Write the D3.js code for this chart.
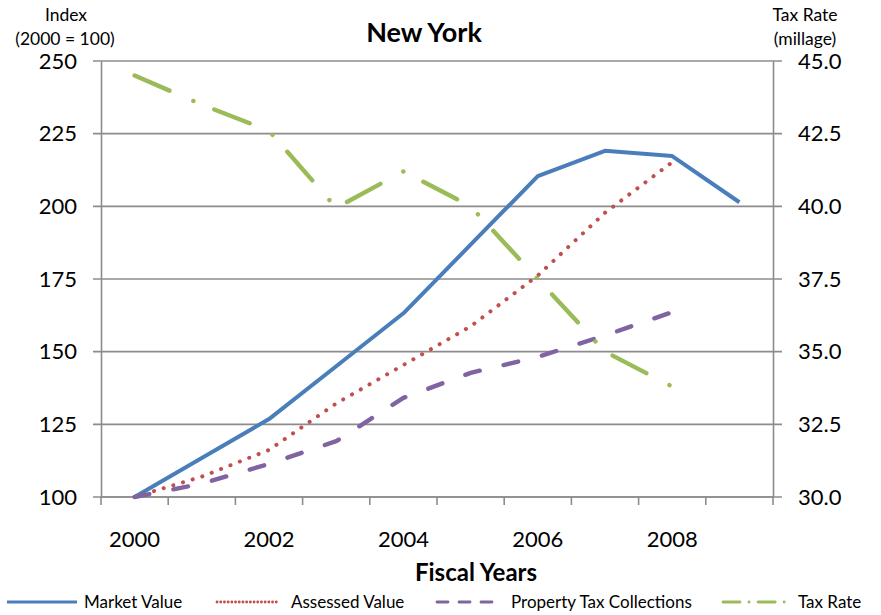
<!DOCTYPE html>
<html>
<head>
<meta charset="utf-8">
<script src="https://cdn.jsdelivr.net/npm/d3@7"></script>
<style>
  html, body { margin: 0; padding: 0; background: #fff; }
  svg { display: block; font-family: Lato, "Open Sans", sans-serif; }
</style>
</head>
<body>
<svg id="chart" width="881" height="615"></svg>
<script>
// Fiscal years and series (index 2000 = 100, tax rate in millage)
const years = [2000, 2001, 2002, 2003, 2004, 2005, 2006, 2007, 2008, 2009];
const yearLabels = [2000, 2002, 2004, 2006, 2008];
const marketValue = [100, 113.4, 126.8, 145, 163.2, 186.8, 210.4, 219.1, 217.3, 201.4];
const assessedValue = [100, 107, 116.2, 132.2, 145.4, 158.7, 176.2, 197.8, 215.2, null];
const taxCollections = [100, 104.6, 111.4, 119.2, 134.1, 142.7, 148.2, 155.6, 163.6, null];
const taxRate = [44.5, 43.5, 42.6, 39.95, 41.2, 40.0, 37.5, 35.0, 33.8, null];
const indexTicks = [100, 125, 150, 175, 200, 225, 250];
const rateTicks = [30, 32.5, 35, 37.5, 40, 42.5, 45];

const svg = d3.select("#chart");
const plotLeft = 101, plotRight = 773, plotTop = 61, plotBottom = 497;
const gridColor = "#8c8c8c";

const x = d3.scaleBand().domain(years).range([plotLeft, plotRight]).padding(0);
const cx = d => x(d) + x.bandwidth() / 2;
const y = d3.scaleLinear().domain([100, 250]).range([plotBottom, plotTop]);
const y2 = d3.scaleLinear().domain([30, 45]).range([plotBottom, plotTop]);

// Horizontal gridlines (with outer tick stubs on both sides)
svg.append("g").selectAll("line").data(indexTicks).join("line")
  .attr("x1", plotLeft - 8).attr("x2", plotRight + 9)
  .attr("y1", d => y(d)).attr("y2", d => y(d))
  .attr("stroke", gridColor).attr("stroke-width", 1.6);

// Left axis
const yAxis = d3.axisLeft(y).tickValues(indexTicks).tickSize(0).tickPadding(24);
const gy = svg.append("g").attr("transform", `translate(${plotLeft},0)`).call(yAxis);
gy.select(".domain").attr("stroke", gridColor).attr("stroke-width", 1.6);
gy.selectAll("text").attr("font-size", 22).attr("fill", "#000")
  .attr("font-family", "Lato, sans-serif");

// Right axis
const y2Axis = d3.axisRight(y2).tickValues(rateTicks).tickSize(0).tickPadding(25)
  .tickFormat(d3.format(".1f"));
const gy2 = svg.append("g").attr("transform", `translate(${plotRight},0)`).call(y2Axis);
gy2.select(".domain").attr("stroke", gridColor).attr("stroke-width", 1.6);
gy2.selectAll("text").attr("font-size", 22).attr("fill", "#000")
  .attr("font-family", "Lato, sans-serif");

// Bottom axis: ticks at band boundaries, labels on even years
const gx = svg.append("g");
gx.append("line").attr("x1", plotLeft).attr("x2", plotRight)
  .attr("y1", plotBottom).attr("y2", plotBottom)
  .attr("stroke", gridColor).attr("stroke-width", 1.6);
gx.selectAll("line.tick").data(years.concat([null])).join("line")
  .attr("class", "tick")
  .attr("x1", (d, i) => plotLeft + i * x.bandwidth())
  .attr("x2", (d, i) => plotLeft + i * x.bandwidth())
  .attr("y1", plotBottom).attr("y2", plotBottom + 8)
  .attr("stroke", gridColor).attr("stroke-width", 1.6);
gx.selectAll("text").data(yearLabels).join("text")
  .attr("x", d => cx(d)).attr("y", 547)
  .attr("text-anchor", "middle").attr("font-size", 22).text(d => d);

// Series lines
const lineIdx = d3.line().defined(d => d.v != null).x(d => cx(d.year)).y(d => y(d.v));
const lineRate = d3.line().defined(d => d.v != null).x(d => cx(d.year)).y(d => y2(d.v));
const pts = arr => years.map((yr, i) => ({ year: yr, v: arr[i] }));

const series = [
  { data: marketValue, gen: lineIdx, color: "#4a7ebb", width: 4, dash: null, cap: "butt" },
  { data: assessedValue, gen: lineIdx, color: "#c0504d", width: 4, dash: "0.1 10", cap: "round" },
  { data: taxCollections, gen: lineIdx, color: "#8064a2", width: 4.4, dash: "15 24.5", cap: "round" },
  { data: taxRate, gen: lineRate, color: "#9bbb59", width: 4.4, dash: "38 26 0.1 22.5", cap: "round" }
];
const gLines = svg.append("g");
series.forEach(s => {
  gLines.append("path")
    .attr("d", s.gen(pts(s.data)))
    .attr("fill", "none")
    .attr("stroke", s.color)
    .attr("stroke-width", s.width)
    .attr("stroke-linejoin", "round")
    .attr("stroke-linecap", s.cap)
    .attr("stroke-dasharray", s.dash);
});

// Titles
svg.append("text").attr("x", 424).attr("y", 42).attr("text-anchor", "middle")
  .attr("font-size", 27).attr("font-weight", "bold").text("New York");
svg.append("text").attr("x", 66).attr("y", 21).attr("text-anchor", "middle")
  .attr("font-size", 17.5).text("Index");
svg.append("text").attr("x", 65).attr("y", 45).attr("text-anchor", "middle")
  .attr("font-size", 17.5).text("(2000 = 100)");
svg.append("text").attr("x", 805).attr("y", 21).attr("text-anchor", "middle")
  .attr("font-size", 17.5).text("Tax Rate");
svg.append("text").attr("x", 805).attr("y", 45).attr("text-anchor", "middle")
  .attr("font-size", 17.5).text("(millage)");
svg.append("text").attr("x", 476).attr("y", 581).attr("text-anchor", "middle")
  .attr("font-size", 24).attr("font-weight", "bold").text("Fiscal Years");

// Legend
const legendItems = [
  { label: "Market Value", color: "#4a7ebb", dash: null, cap: "butt", x1: 7, x2: 77, tx: 84 },
  { label: "Assessed Value", color: "#c0504d", dash: "0.1 3.6", cap: "round", x1: 217, x2: 279, tx: 291 },
  { label: "Property Tax Collections", color: "#8064a2", dash: "11 11", cap: "round", x1: 437, x2: 502, tx: 511 },
  { label: "Tax Rate", color: "#9bbb59", dash: "17 9 0.1 9", cap: "round", x1: 723, x2: 789, tx: 798 }
];
const gLeg = svg.append("g");
legendItems.forEach(it => {
  gLeg.append("line").attr("x1", it.x1).attr("x2", it.x2)
    .attr("y1", 602).attr("y2", 602)
    .attr("stroke", it.color).attr("stroke-width", 2.8)
    .attr("stroke-linecap", it.cap).attr("stroke-dasharray", it.dash);
  gLeg.append("text").attr("x", it.tx).attr("y", 608).attr("font-size", 17)
    .text(it.label);
});
</script>
</body>
</html>
